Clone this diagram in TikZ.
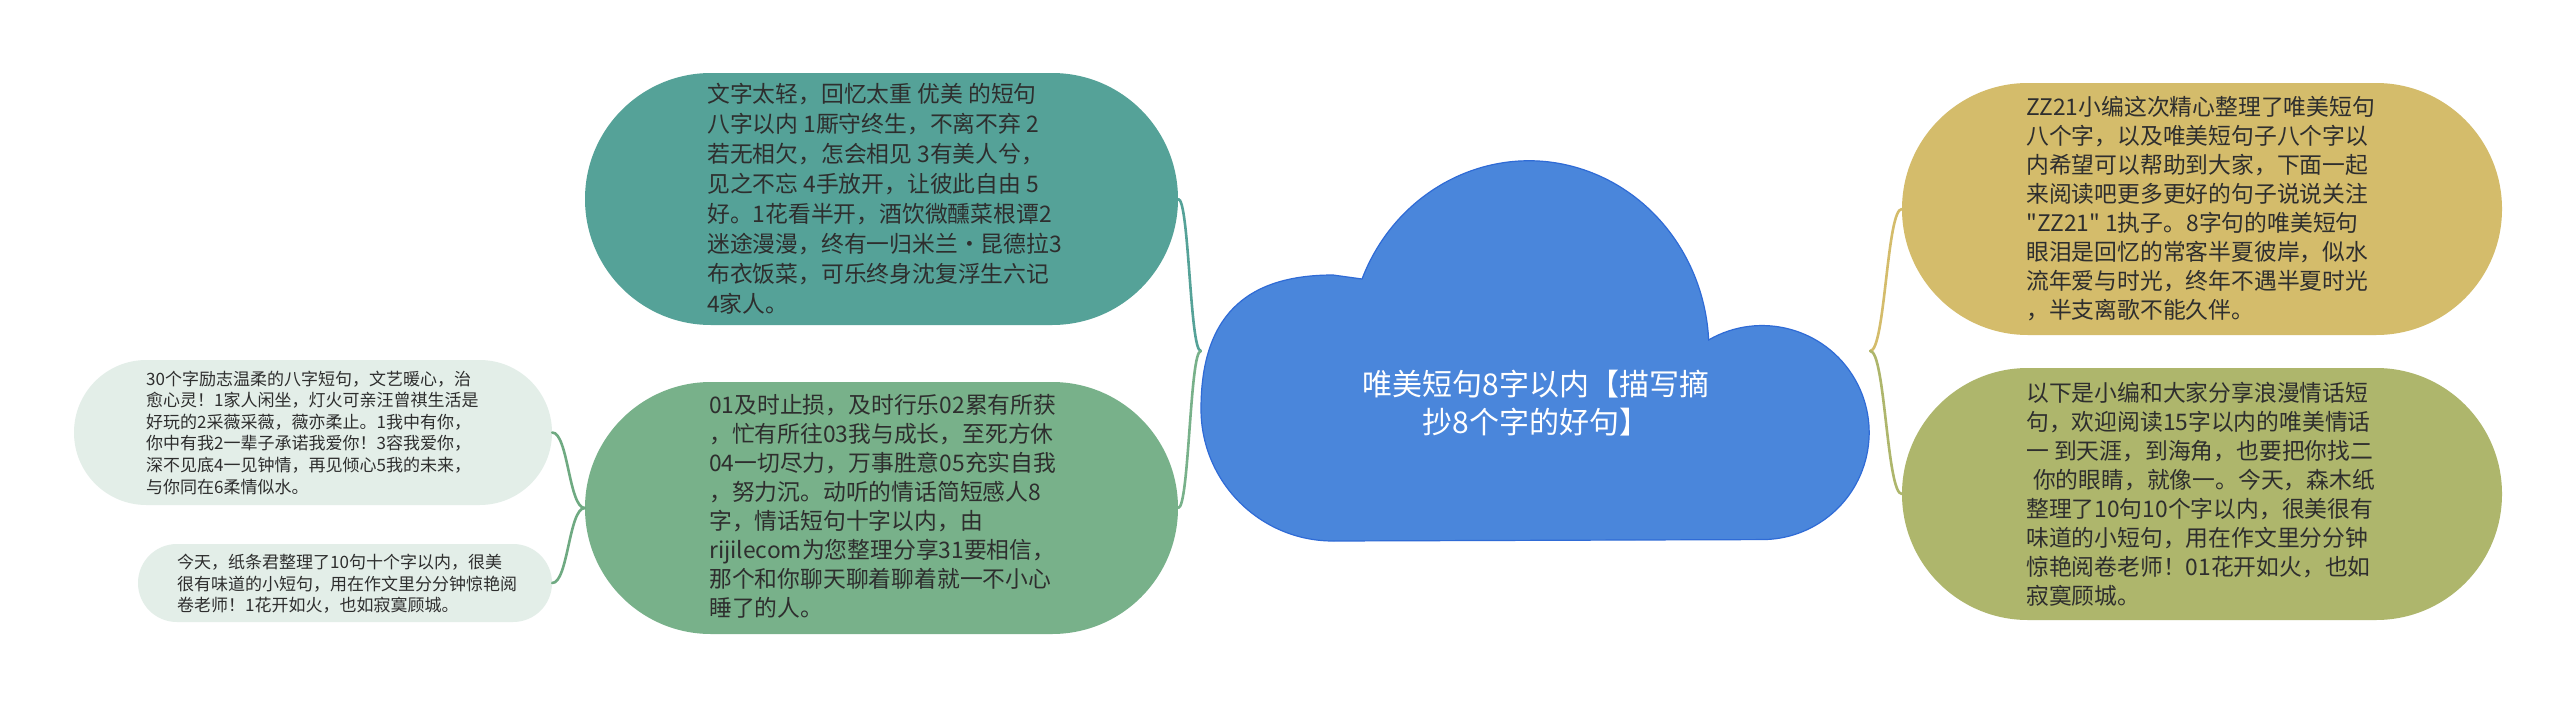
\documentclass[tikz,border=0pt]{standalone}
\usepackage{fontspec}
\newfontfamily\cjkfont{Noto Sans CJK SC}
\usetikzlibrary{calc}
\definecolor{tealfill}{HTML}{55A298}
\definecolor{greenfill}{HTML}{78B18A}
\definecolor{lightfill}{HTML}{E3EEE8}
\definecolor{yellowfill}{HTML}{D4BC6B}
\definecolor{olivefill}{HTML}{AEB66C}
\definecolor{cloudfill}{HTML}{4A86DB}
\definecolor{cloudborder}{HTML}{2F6BD6}
\definecolor{txt}{HTML}{2E2E2E}
\definecolor{smallconn}{HTML}{6FAA82}
\begin{document}
\begin{tikzpicture}[x=1pt, y=-1pt,
  pill/.style={rectangle, inner sep=0pt, draw=none},
  body/.style={font=\cjkfont\fontsize{22.8pt}{30pt}\selectfont, align=left, inner sep=0pt, text=txt, anchor=west},
  bodytight/.style={font=\cjkfont\fontsize{22.8pt}{29pt}\selectfont, align=left, inner sep=0pt, text=txt, anchor=west},
  small/.style={font=\cjkfont\fontsize{17pt}{21.6pt}\selectfont, align=left, inner sep=0pt, text=txt, anchor=west},
  conn/.style={line width=2.6pt, line cap=round}]
\useasboundingbox (0,0) rectangle (2560,704);
\fill[white] (0,0) rectangle (2560,704);

% cloud
\path[fill=cloudfill, draw=cloudborder, line width=1.2pt]
  (1201,409) .. controls (1201,319) and (1243,275) .. (1333,275) -- (1362,279)
  arc[start angle=202, end angle=357, x radius=180, y radius=189]
  arc[start angle=240, end angle=450, radius=107]
  -- (1333,541)
  arc[start angle=90, end angle=180, radius=132] -- cycle;
\node[inner sep=0pt, minimum width=669pt, minimum height=380pt] (root) at (1535.5,351) {};
\node[font=\cjkfont\fontsize{30pt}{38pt}\selectfont, text=white, align=center, inner sep=0pt] (title) at (1536,403.5) {唯美短句8字以内【描写摘\\抄8个字的好句】};

% pills
\node[pill, fill=tealfill, minimum width=593pt, minimum height=252pt, rounded corners=125.9pt] (T) at (881.5,199) {};
\node[pill, fill=greenfill, minimum width=593pt, minimum height=252pt, rounded corners=125.9pt] (G) at (881.5,508) {};
\node[pill, fill=lightfill, minimum width=478pt, minimum height=145pt, rounded corners=72.4pt] (A) at (313,432.5) {};
\node[pill, fill=lightfill, minimum width=414pt, minimum height=78pt, rounded corners=38.9pt] (B) at (345,583) {};
\node[pill, fill=yellowfill, minimum width=600pt, minimum height=252pt, rounded corners=125.9pt] (Y) at (2202,209) {};
\node[pill, fill=olivefill, minimum width=600pt, minimum height=252pt, rounded corners=125.9pt] (O) at (2202,494) {};

% texts
\node[body] (Tt) at (707,199) {文字太轻，回忆太重 优美 的短句\\八字以内 1厮守终生，不离不弃 2\\若无相欠，怎会相见 3有美人兮，\\见之不忘 4手放开，让彼此自由 5\\好。1花看半开，酒饮微醺菜根谭2\\迷途漫漫，终有一归米兰·昆德拉3\\布衣饭菜，可乐终身沈复浮生六记\\4家人。};
\node[bodytight] (Gt) at (709,506) {01及时止损，及时行乐02累有所获\\，忙有所往03我与成长，至死方休\\04一切尽力，万事胜意05充实自我\\，努力沉。动听的情话简短感人8\\字，情话短句十字以内，由\\rijilecom为您整理分享31要相信，\\那个和你聊天聊着聊着就一不小心\\睡了的人。};
\node[small] (At) at (146,432.6) {30个字励志温柔的八字短句，文艺暖心，治\\愈心灵！1家人闲坐，灯火可亲汪曾祺生活是\\好玩的2采薇采薇，薇亦柔止。1我中有你，\\你中有我2一辈子承诺我爱你！3容我爱你，\\深不见底4一见钟情，再见倾心5我的未来，\\与你同在6柔情似水。};
\node[small] (Bt) at (177,584) {今天，纸条君整理了10句十个字以内，很美\\很有味道的小短句，用在作文里分分钟惊艳阅\\卷老师！1花开如火，也如寂寞顾城。};
\node[bodytight] (Yt) at (2026,209) {ZZ21小编这次精心整理了唯美短句\\八个字，以及唯美短句子八个字以\\内希望可以帮助到大家，下面一起\\来阅读吧更多更好的句子说说关注\\"ZZ21" 1执子。8字句的唯美短句\\眼泪是回忆的常客半夏彼岸，似水\\流年爱与时光，终年不遇半夏时光\\，半支离歌不能久伴。};
\node[bodytight] (Ot) at (2026,494) {以下是小编和大家分享浪漫情话短\\句，欢迎阅读15字以内的唯美情话\\一 到天涯，到海角，也要把你找二\\\hspace*{0.3em}你的眼睛，就像一。今天，森木纸\\整理了10句10个字以内，很美很有\\味道的小短句，用在作文里分分钟\\惊艳阅卷老师！01花开如火，也如\\寂寞顾城。};

% connectors
\draw[conn, draw=tealfill] (T.east) .. controls +(11,0) and +(-11,0) .. (root.west);
\draw[conn, draw=greenfill] (G.east) .. controls +(11,0) and +(-11,0) .. (root.west);
\draw[conn, draw=smallconn] (A.east) .. controls +(16,0) and +(-16,0) .. (G.west);
\draw[conn, draw=smallconn] (B.east) .. controls +(16,0) and +(-16,0) .. (G.west);
\draw[conn, draw=yellowfill] (root.east) .. controls +(15,0) and +(-15,0) .. (Y.west);
\draw[conn, draw=olivefill] (root.east) .. controls +(15,0) and +(-15,0) .. (O.west);
\end{tikzpicture}
\end{document}
